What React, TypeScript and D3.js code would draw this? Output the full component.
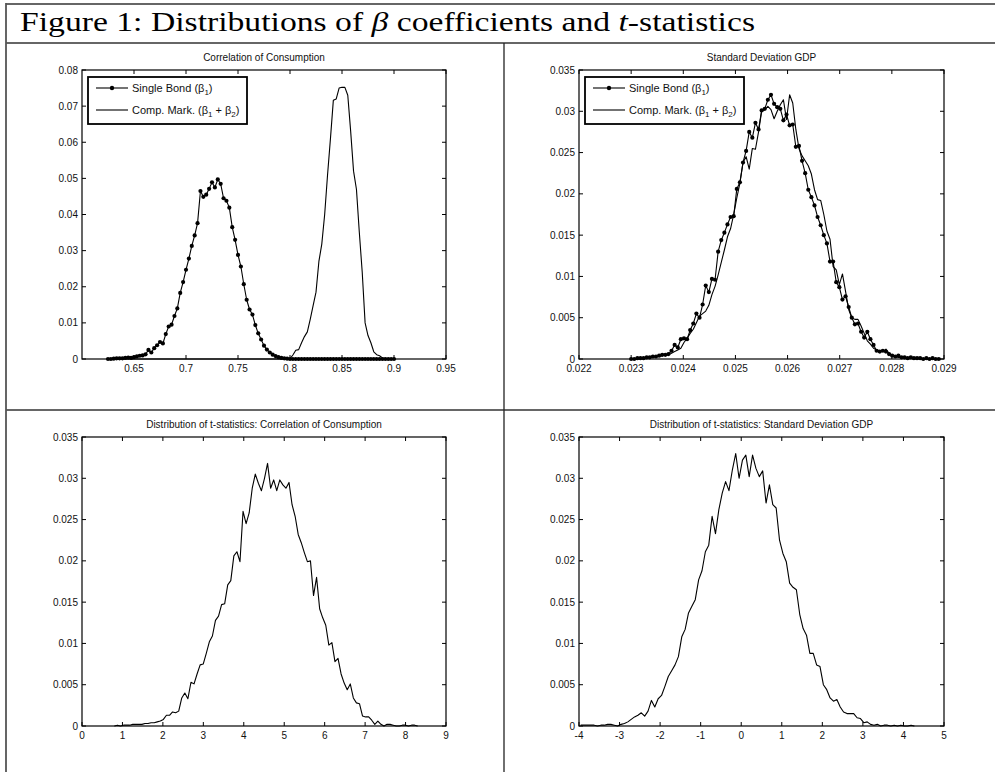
import React from "react";
import * as d3 from "d3";

const W = 995;
const H = 772;

// ---------- data ----------
// histogram bin-centre ranges (first, last bin)
const corrRange = [0.625, 0.9];
const sdRange = [0.023, 0.0289];
const tCorrRange = [0.8, 8.3];
const tSdRange = [-3.96, 4.27];

const corrSingle = [
  0, 0, 0.0001, 0.0002, 0.0002, 0.0002, 0.0003, 0.0004, 0.0003, 0.0005,
  0.0007, 0.0009, 0.001, 0.0013, 0.0025, 0.0018, 0.003, 0.0038, 0.0047, 0.0043,
  0.0069, 0.009, 0.0095, 0.0119, 0.014, 0.0183, 0.0213, 0.0247, 0.0278, 0.0313,
  0.0342, 0.0376, 0.0465, 0.0449, 0.0455, 0.0471, 0.0489, 0.0475, 0.0497, 0.0485,
  0.0445, 0.0438, 0.0419, 0.0365, 0.033, 0.0288, 0.0256, 0.0207, 0.0164, 0.0137,
  0.0123, 0.0094, 0.0071, 0.0054, 0.0037, 0.0026, 0.0018, 0.0012, 0.0008, 0.0005,
  0.0003, 0.0002, 0.0001, 0, 0, 0, 0, 0, 0, 0,
  0, 0, 0, 0, 0, 0, 0, 0, 0, 0,
  0, 0, 0, 0, 0, 0, 0, 0, 0, 0,
  0, 0, 0, 0, 0, 0, 0, 0, 0, 0,
];

const corrComp = [
  0, 0, 0, 0, 0, 0, 0, 0, 0, 0,
  0, 0, 0, 0, 0, 0, 0, 0, 0, 0,
  0, 0, 0, 0, 0, 0, 0, 0, 0, 0,
  0, 0, 0, 0, 0, 0, 0, 0, 0, 0,
  0, 0, 0, 0, 0, 0, 0, 0, 0, 0,
  0, 0, 0, 0, 0, 0, 0, 0, 0, 0,
  0, 0, 0, 0.0001, 0.0011, 0.0024, 0.0026, 0.0045, 0.0062, 0.0075,
  0.011, 0.0148, 0.0185, 0.027, 0.0318, 0.04, 0.051, 0.061, 0.0716, 0.072,
  0.075, 0.0752, 0.0752, 0.073, 0.063, 0.052, 0.047, 0.035, 0.024, 0.01,
  0.0065, 0.0045, 0.002, 0.0012, 0.0009, 0.0003, 0.0001, 0, 0, 0,
];

const sdSingle = [
  0, 0, 0.0001, 0.0001, 0.0001, 0.0002, 0.0002, 0.0003, 0.0003, 0.0004,
  0.0005, 0.0005, 0.0006, 0.001, 0.0017, 0.0014, 0.0024, 0.0025, 0.0024, 0.0035,
  0.0043, 0.0055, 0.005, 0.0066, 0.0089, 0.0081, 0.0097, 0.0096, 0.013, 0.0144,
  0.0153, 0.0163, 0.0172, 0.0173, 0.0206, 0.0214, 0.0238, 0.0252, 0.0275, 0.0268,
  0.0286, 0.0278, 0.0301, 0.0303, 0.0314, 0.032, 0.0309, 0.0305, 0.0303, 0.0289,
  0.0296, 0.0283, 0.0284, 0.0257, 0.0258, 0.024, 0.0225, 0.0205, 0.0196, 0.0186,
  0.0172, 0.0162, 0.015, 0.014, 0.0118, 0.0118, 0.0093, 0.0087, 0.0072, 0.0076,
  0.0063, 0.005, 0.0042, 0.0043, 0.0033, 0.0026, 0.0033, 0.0024, 0.0017, 0.001,
  0.0009, 0.001, 0.0009, 0.0006, 0.0004, 0.0003, 0.0004, 0.0002, 0.0002, 0.0001,
  0.0002, 0.0001, 0.0001, 0.0001, 0, 0.0001, 0, 0.0001, 0, 0,
];

const sdComp = [
  0, 0, 0, 0.0001, 0.0001, 0.0001, 0.0002, 0.0002, 0.0003, 0.0003,
  0.0004, 0.0005, 0.0005, 0.0007, 0.0009, 0.0011, 0.0013, 0.002, 0.0025, 0.0031,
  0.0036, 0.0044, 0.0052, 0.0055, 0.0058, 0.0065, 0.0078, 0.0088, 0.0102, 0.0117,
  0.0132, 0.0148, 0.0158, 0.0175, 0.0195, 0.0213, 0.0238, 0.0245, 0.023, 0.0255,
  0.0254, 0.0275, 0.03, 0.0302, 0.0306, 0.0302, 0.0291, 0.03, 0.0308, 0.0314,
  0.029, 0.032, 0.031, 0.0278, 0.0255, 0.0246, 0.024, 0.0234, 0.0224, 0.0205,
  0.0193, 0.0192, 0.0175, 0.0155, 0.0145, 0.0112, 0.0108, 0.009, 0.0103, 0.0082,
  0.006, 0.005, 0.0048, 0.0048, 0.004, 0.0031, 0.0022, 0.0018, 0.0013, 0.0011,
  0.001, 0.0009, 0.0012, 0.0007, 0.0004, 0.0003, 0.0002, 0.0002, 0.0001, 0.0001,
  0.0001, 0, 0.0001, 0, 0, 0, 0, 0, 0, 0,
];

const tCorr = [
  0, 0.0001, 0, 0.0001, 0.0001, 0.0001, 0.0002, 0.0002, 0.0002, 0.0002,
  0.0003, 0.0003, 0.0004, 0.0004, 0.0005, 0.0006, 0.0008, 0.0013, 0.0013, 0.0017,
  0.0016, 0.0018, 0.0034, 0.004, 0.0033, 0.0053, 0.0051, 0.0063, 0.0074, 0.0075,
  0.0088, 0.0102, 0.0109, 0.0128, 0.0133, 0.0147, 0.0148, 0.0171, 0.0176, 0.0206,
  0.0211, 0.0199, 0.026, 0.0245, 0.0258, 0.0288, 0.0305, 0.0294, 0.0285, 0.03,
  0.0318, 0.0288, 0.0298, 0.0285, 0.0298, 0.0292, 0.0288, 0.0295, 0.0268, 0.0254,
  0.0232, 0.0222, 0.021, 0.0199, 0.02, 0.0158, 0.018, 0.0142, 0.0131, 0.0122,
  0.0098, 0.0101, 0.0078, 0.0082, 0.0063, 0.0052, 0.0044, 0.0051, 0.0034, 0.0028,
  0.0027, 0.0012, 0.0011, 0.0011, 0.0007, 0.0002, 0.0006, 0.0002, 0, 0.0002,
  0.0002, 0.0001, 0, 0, 0.0001, 0.0001, 0, 0.0001, 0.0001, 0,
];

const tSd = [
  0.0001, 0.0001, 0.0001, 0.0001, 0.0001, 0, 0.0001, 0.0001, 0.0002, 0.0002,
  0.0001, 0, 0.0002, 0.0003, 0.0005, 0.0008, 0.0011, 0.0013, 0.0016, 0.0012,
  0.0018, 0.0031, 0.0023, 0.0033, 0.0037, 0.0048, 0.006, 0.0067, 0.0074, 0.0084,
  0.0108, 0.0117, 0.0137, 0.0145, 0.0153, 0.0177, 0.0188, 0.0211, 0.0219, 0.0254,
  0.0233, 0.0262, 0.0282, 0.0296, 0.0285, 0.031, 0.033, 0.03, 0.0322, 0.0328,
  0.0302, 0.0328, 0.0312, 0.0302, 0.0309, 0.027, 0.0292, 0.0268, 0.0264, 0.0225,
  0.0209, 0.0199, 0.0173, 0.0168, 0.0165, 0.0135, 0.0118, 0.011, 0.0088, 0.0088,
  0.0074, 0.0072, 0.005, 0.0044, 0.0034, 0.003, 0.0032, 0.0023, 0.0017, 0.0015,
  0.0015, 0.0015, 0.001, 0.0009, 0.0004, 0.0005, 0.0002, 0.0001, 0.0002, 0,
  0.0001, 0.0001, 0, 0.0001, 0, 0.0001, 0, 0, 0.0001, 0,
];

// ---------- axes ticks ----------
const corrXTicks = [0.65, 0.7, 0.75, 0.8, 0.85, 0.9, 0.95];
const corrYTicks = [0, 0.01, 0.02, 0.03, 0.04, 0.05, 0.06, 0.07, 0.08];
const sdXTicks = [0.022, 0.023, 0.024, 0.025, 0.026, 0.027, 0.028, 0.029];
const probYTicks = [0, 0.005, 0.01, 0.015, 0.02, 0.025, 0.03, 0.035];
const tCorrXTicks = [0, 1, 2, 3, 4, 5, 6, 7, 8, 9];
const tSdXTicks = [-4, -3, -2, -1, 0, 1, 2, 3, 4, 5];

const titles = [
  "Correlation of Consumption",
  "Standard Deviation GDP",
  "Distribution of t-statistics: Correlation of Consumption",
  "Distribution of t-statistics: Standard Deviation GDP",
];

const SANS = "'Liberation Sans', Arial, Helvetica, sans-serif";

function binCentres(range: number[], n: number) {
  const step = (range[1] - range[0]) / (n - 1);
  return d3.range(n).map((i) => range[0] + i * step);
}

function fmt(v: number) {
  return String(+v.toFixed(4));
}

type Series = { xs: number[]; ys: number[]; dots: boolean };
type Box = { x0: number; x1: number; y0: number; y1: number };

function Legend({ box }: { box: Box }) {
  const lx = box.x0 + 6;
  const ly = box.y0 + 7;
  const r1 = box.y0 + 18;
  const r2 = box.y0 + 40;
  const l0 = box.x0 + 14;
  const l1 = box.x0 + 46;
  const tx = box.x0 + 50;
  return (
    <g>
      <rect x={lx} y={ly} width={159} height={47} fill="#fff" stroke="#000" strokeWidth={1.8} />
      <line x1={l0} x2={l1} y1={r1} y2={r1} stroke="#000" strokeWidth={1.1} />
      <circle cx={(l0 + l1) / 2} cy={r1} r={2.2} fill="#000" />
      <text x={tx} y={r1} dy="0.35em" fontFamily={SANS} fontSize={11} fill="#111">
        Single Bond (β<tspan fontSize={8} dy={3}>1</tspan>
        <tspan dy={-3}>)</tspan>
      </text>
      <line x1={l0} x2={l1} y1={r2} y2={r2} stroke="#000" strokeWidth={1.1} />
      <text x={tx} y={r2} dy="0.35em" fontFamily={SANS} fontSize={11} fill="#111">
        Comp. Mark. (β<tspan fontSize={8} dy={3}>1</tspan>
        <tspan dy={-3}> + β</tspan>
        <tspan fontSize={8} dy={3}>2</tspan>
        <tspan dy={-3}>)</tspan>
      </text>
    </g>
  );
}

function Panel({
  box,
  xDomain,
  yDomain,
  xTicks,
  yTicks,
  series,
  title,
  legend,
}: {
  box: Box;
  xDomain: number[];
  yDomain: number[];
  xTicks: number[];
  yTicks: number[];
  series: Series[];
  title: string;
  legend: boolean;
}) {
  const x = d3.scaleLinear().domain(xDomain).range([box.x0, box.x1]);
  const y = d3.scaleLinear().domain(yDomain).range([box.y1, box.y0]);
  const line = d3
    .line<[number, number]>()
    .x((d) => x(d[0]))
    .y((d) => y(d[1]));
  const tl = 4;
  return (
    <g>
      <rect x={box.x0} y={box.y0} width={box.x1 - box.x0} height={box.y1 - box.y0} fill="#fff" />
      <text
        x={(box.x0 + box.x1) / 2}
        y={box.y0 - 9}
        textAnchor="middle"
        fontFamily={SANS}
        fontSize={10}
        fill="#111"
      >
        {title}
      </text>
      {series.map((s, k) => {
        const pts = s.xs.map((xv, i) => [xv, s.ys[i]] as [number, number]);
        return (
          <g key={k}>
            <path d={line(pts) || ""} fill="none" stroke="#000" strokeWidth={1.1} strokeLinejoin="round" />
            {s.dots &&
              pts.map((p, i) => <circle key={i} cx={x(p[0])} cy={y(p[1])} r={2.1} fill="#000" />)}
          </g>
        );
      })}
      {xTicks.map((t) => (
        <g key={"x" + t}>
          <line x1={x(t)} x2={x(t)} y1={box.y1} y2={box.y1 - tl} stroke="#000" />
          <line x1={x(t)} x2={x(t)} y1={box.y0} y2={box.y0 + tl} stroke="#000" />
          <text
            x={x(t)}
            y={box.y1 + 13}
            textAnchor="middle"
            fontFamily={SANS}
            fontSize={10}
            fill="#111"
          >
            {fmt(t)}
          </text>
        </g>
      ))}
      {yTicks.map((t) => (
        <g key={"y" + t}>
          <line x1={box.x0} x2={box.x0 + tl} y1={y(t)} y2={y(t)} stroke="#000" />
          <line x1={box.x1} x2={box.x1 - tl} y1={y(t)} y2={y(t)} stroke="#000" />
          <text
            x={box.x0 - 4}
            y={y(t)}
            dy="0.35em"
            textAnchor="end"
            fontFamily={SANS}
            fontSize={10}
            fill="#111"
          >
            {fmt(t)}
          </text>
        </g>
      ))}
      <rect
        x={box.x0}
        y={box.y0}
        width={box.x1 - box.x0}
        height={box.y1 - box.y0}
        fill="none"
        stroke="#000"
        strokeWidth={1.2}
      />
      {legend && <Legend box={box} />}
    </g>
  );
}

export default function App() {
  const corrX = binCentres(corrRange, corrSingle.length);
  const sdX = binCentres(sdRange, sdSingle.length);
  const tcX = binCentres(tCorrRange, tCorr.length);
  const tsX = binCentres(tSdRange, tSd.length);

  const p1: Box = { x0: 82, x1: 446, y0: 70, y1: 359 };
  const p2: Box = { x0: 579, x1: 944, y0: 70, y1: 359 };
  const p3: Box = { x0: 82, x1: 446, y0: 437, y1: 726 };
  const p4: Box = { x0: 579, x1: 944, y0: 437, y1: 726 };

  return (
    <svg
      width={W}
      height={H}
      viewBox={`0 0 ${W} ${H}`}
      style={{ position: "absolute", left: 0, top: 0, background: "#fff" }}
    >
      <rect x={0} y={0} width={W} height={H} fill="#fff" />
      <line x1={6} x2={W} y1={4} y2={4} stroke="#666" strokeWidth={2} />
      <line x1={6} x2={W} y1={43} y2={43} stroke="#666" strokeWidth={2} />
      <line x1={6} x2={W} y1={410} y2={410} stroke="#666" strokeWidth={2} />
      <line x1={6} x2={6} y1={3} y2={H} stroke="#555" strokeWidth={1.8} />
      <line x1={504} x2={504} y1={43} y2={H} stroke="#222" strokeWidth={1.3} />
      <text
        x={20}
        y={31}
        fontFamily="'Liberation Serif', 'Times New Roman', serif"
        fontSize={28}
        fill="#000"
        textLength={735}
        lengthAdjust="spacingAndGlyphs"
      >
        Figure 1: Distributions of <tspan fontStyle="italic">β</tspan> coefficients and{" "}
        <tspan fontStyle="italic">t</tspan>-statistics
      </text>

      <Panel
        box={p1}
        xDomain={[0.6, 0.95]}
        yDomain={[0, 0.08]}
        xTicks={corrXTicks}
        yTicks={corrYTicks}
        title={titles[0]}
        legend={true}
        series={[
          { xs: corrX, ys: corrComp, dots: false },
          { xs: corrX, ys: corrSingle, dots: true },
        ]}
      />
      <Panel
        box={p2}
        xDomain={[0.022, 0.029]}
        yDomain={[0, 0.035]}
        xTicks={sdXTicks}
        yTicks={probYTicks}
        title={titles[1]}
        legend={true}
        series={[
          { xs: sdX, ys: sdComp, dots: false },
          { xs: sdX, ys: sdSingle, dots: true },
        ]}
      />
      <Panel
        box={p3}
        xDomain={[0, 9]}
        yDomain={[0, 0.035]}
        xTicks={tCorrXTicks}
        yTicks={probYTicks}
        title={titles[2]}
        legend={false}
        series={[{ xs: tcX, ys: tCorr, dots: false }]}
      />
      <Panel
        box={p4}
        xDomain={[-4, 5]}
        yDomain={[0, 0.035]}
        xTicks={tSdXTicks}
        yTicks={probYTicks}
        title={titles[3]}
        legend={false}
        series={[{ xs: tsX, ys: tSd, dots: false }]}
      />
    </svg>
  );
}
